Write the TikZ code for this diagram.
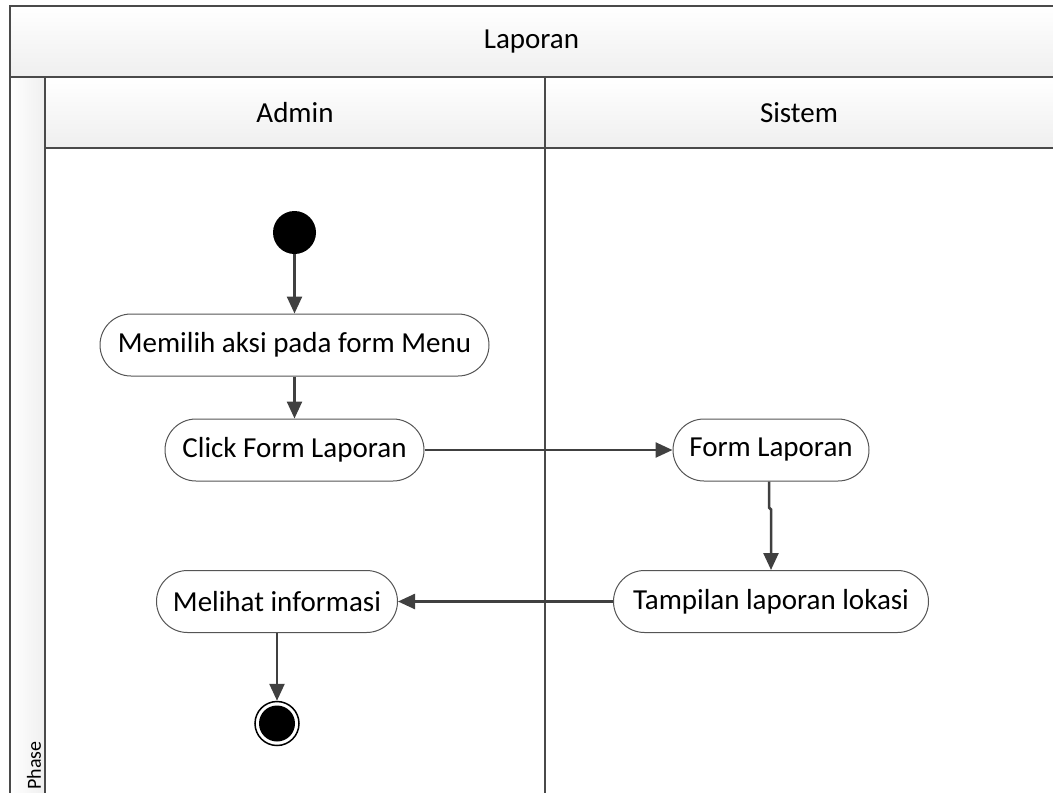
\documentclass[tikz,border=0pt]{standalone}
\usepackage{fontspec}
\setmainfont{Carlito}
\usetikzlibrary{arrows.meta}
\definecolor{frameline}{HTML}{4A4A4A}
\definecolor{connline}{HTML}{404040}
\definecolor{nodeline}{HTML}{555555}
\definecolor{headbot}{HTML}{EFEFEF}
\begin{document}
\begin{tikzpicture}[x=1pt,y=-1pt,
  frame/.style={draw=frameline,line width=2pt},
  header/.style={top color=white,bottom color=headbot,draw=none},
  action/.style={draw=nodeline,line width=1pt,fill=white,rectangle,rounded corners=31pt,
    minimum height=62pt,inner sep=0pt,font=\fontsize{29}{34}\selectfont},
  conn/.style={draw=connline,line width=2.5pt,-{Triangle[width=15pt,length=17pt]}},
  lanetitle/.style={font=\fontsize{29}{34}\selectfont,inner sep=0pt}]
\useasboundingbox (0,0) rectangle (1053,793);
% header bands
\shade[header] (10,6) rectangle (1053,77);
\shade[header] (45,77) rectangle (1053,148);
\shade[left color=white,right color=headbot] (10,77) rectangle (45,793);
% frame lines
\draw[frame] (1053,6) -- (10,6) -- (10,793);
\draw[frame] (10,77) -- (1053,77);
\draw[frame] (45,77) -- (45,793);
\draw[frame] (45,148) -- (1053,148);
\draw[draw=frameline,line width=1.5pt] (545,77) -- (545,793);
% titles
\node[lanetitle] (title) at (531.5,42) {Laporan};
\node[lanetitle] (admin) at (295,113) {Admin};
\node[lanetitle] (sistem) at (799,113) {Sistem};
\node[rotate=90,anchor=west,font=\fontsize{20}{24}\selectfont,inner sep=0pt] (phase) at (34,790) {Phase};
% activity nodes
\node[circle,fill=black,minimum size=43pt,inner sep=0pt] (start) at (294.5,232.5) {};
\node[action,minimum width=389pt] (menu) at (294.5,345) {Memilih aksi pada form Menu};
\node[action,minimum width=259pt] (click) at (294.5,450) {Click Form Laporan};
\node[action,minimum width=196pt] (form) at (771,450) {Form Laporan};
\node[action,minimum width=315pt] (tampil) at (771,601.5) {Tampilan laporan lokasi};
\node[action,minimum width=241pt] (lihat) at (277,601.5) {Melihat informasi};
\node[circle,draw=black,line width=1.5pt,fill=white,minimum size=44pt,inner sep=0pt] (end) at (277,723.5) {};
\node[circle,fill=black,minimum size=36pt,inner sep=0pt] at (end) {};
% flows
\draw[conn] (start) -- (menu);
\draw[conn] (menu) -- (click);
\draw[conn] (click) -- (form);
\draw[conn] ([xshift=-2pt]form.south) -- ++(0,26) -- ++(2,2) -- (tampil.north);
\draw[conn] (tampil) -- (lihat);
\draw[conn] (lihat) -- (end);
\end{tikzpicture}
\end{document}
